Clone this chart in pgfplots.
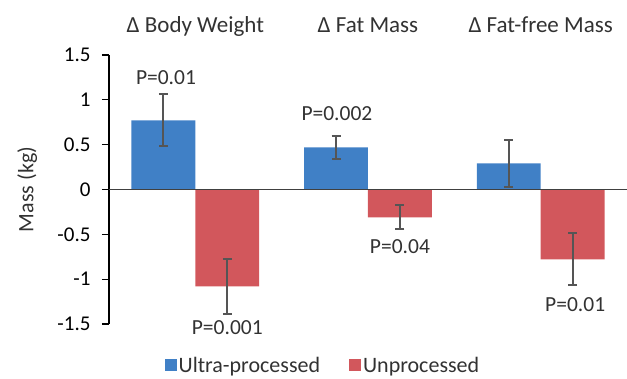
\documentclass[border=0pt]{standalone}
\usepackage{fontspec}
\setmainfont{Carlito}
\usepackage{pgfplots}
\pgfplotsset{compat=1.18}
\definecolor{ublue}{RGB}{64,128,198}
\definecolor{ured}{RGB}{210,87,92}
\definecolor{txt}{RGB}{50,50,50}
\definecolor{errc}{RGB}{85,85,85}
\begin{document}
\begin{tikzpicture}
\begin{axis}[
  at={(0pt,0pt)}, anchor=south west,
  scale only axis, width=518pt, height=269pt,
  xmin=-0.5, xmax=2.5, ymin=-1.5, ymax=1.5,
  clip=false,
  ybar=0pt,
  axis x line=none,
  axis y line*=left,
  y axis line style={black, line width=1.2pt},
  ytick={-1.5,-1,-0.5,0,0.5,1,1.5},
  yticklabels={-1.5,-1,-0.5,0,0.5,1,1.5},
  tick align=outside, major tick length=7pt,
  ytick style={black, line width=1.2pt},
  yticklabel style={font=\fontsize{21}{21}\selectfont, text=black, xshift=-8pt},
  ylabel={Mass (kg)},
  ylabel style={at={(axis description cs:-0.158,0.5)}, anchor=center, font=\fontsize{22}{22}\selectfont, text=txt},
  bar width=0.37,
  legend columns=2,
  legend style={at={(0.413,-0.153)}, anchor=center, draw=none, fill=none,
    font=\fontsize{22}{22}\selectfont, text=txt,
    /tikz/every even column/.append style={column sep=27pt}},
  legend image code/.code={\fill[#1] (0pt,-6pt) rectangle (12pt,6pt);},
]
\addplot[fill=ublue, draw=none,
  error bars/.cd, y dir=both, y explicit,
  error bar style={errc, line width=2pt},
  error mark options={errc, line width=2pt, rotate=90, mark size=4.5pt}]
  coordinates {(0,0.77) +- (0,0.29) (1,0.47) +- (0,0.13) (2,0.29) +- (0,0.265)};
\addlegendentry{Ultra-processed}
\addplot[fill=ured, draw=none,
  error bars/.cd, y dir=both, y explicit,
  error bar style={errc, line width=2pt},
  error mark options={errc, line width=2pt, rotate=90, mark size=4.5pt}]
  coordinates {(0,-1.08) +- (0,0.31) (1,-0.31) +- (0,0.135) (2,-0.78) +- (0,0.29)};
\addlegendentry{Unprocessed}
\draw[black!75, line width=1.2pt] (axis cs:-0.5,0) -- (axis cs:2.5,0);
\begin{scope}[every node/.style={font=\fontsize{23}{23}\selectfont, text=txt, anchor=base}]
\node at (axis cs:0,1.5) [yshift=22pt] {Δ Body Weight};
\node at (axis cs:1,1.5) [yshift=22pt] {Δ Fat Mass};
\node at (axis cs:2,1.5) [yshift=22pt] {Δ Fat-free Mass};
\end{scope}
\begin{scope}[every node/.style={font=\fontsize{21.5}{21.5}\selectfont, text=txt, anchor=base}]
\node at (axis cs:-0.17,1.176) {P=0.01};
\node at (axis cs:0.82,0.775) {P=0.002};
\node at (axis cs:1.185,-0.711) {P=0.04};
\node at (axis cs:0.185,-1.62) {P=0.001};
\node at (axis cs:2.2,-1.362) {P=0.01};
\end{scope}
\end{axis}
\pgfresetboundingbox
\path (-109pt,-55pt) rectangle (518pt,324pt);
\end{tikzpicture}
\end{document}
